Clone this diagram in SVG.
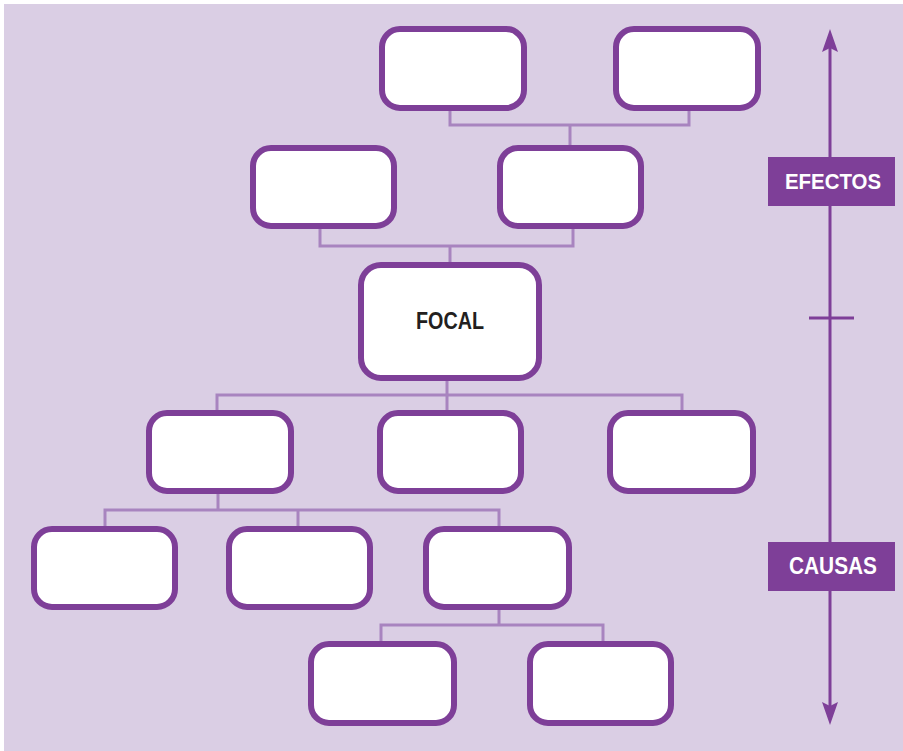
<svg xmlns="http://www.w3.org/2000/svg" width="903" height="751" viewBox="0 0 903 751">
<style>
.node rect{fill:#ffffff;stroke:#7E3F98;stroke-width:6}
.conn{fill:none;stroke:#A884BF;stroke-width:3}
.lbl{font-family:"Liberation Sans Narrow","Liberation Sans",Arial,sans-serif;font-weight:bold;text-anchor:middle}
.axis{stroke:#7E3F98;stroke-width:3;fill:none}
</style>
<rect x="0" y="0" width="903" height="751" fill="#ffffff"/>
<rect x="4" y="4" width="899" height="747" fill="#DACEE4"/>
<g id="connectors">
<polyline class="conn" points="450,111 450,125 689,125 689,111"/>
<line class="conn" x1="570" y1="125" x2="570" y2="146"/>
<polyline class="conn" points="320,229 320,246 573,246 573,229"/>
<line class="conn" x1="450" y1="246" x2="450" y2="263"/>
<line class="conn" x1="447" y1="381" x2="447" y2="411"/>
<polyline class="conn" points="217,411 217,395 682,395 682,411"/>
<line class="conn" x1="218" y1="494" x2="218" y2="510"/>
<polyline class="conn" points="105,527 105,510 499,510 499,527"/>
<line class="conn" x1="298" y1="510" x2="298" y2="527"/>
<line class="conn" x1="499" y1="610" x2="499" y2="625"/>
<polyline class="conn" points="381,642 381,625 603,625 603,642"/>
</g>
<g id="n-efecto-1" class="node"><rect x="382" y="29" width="142" height="79" rx="18"/></g>
<g id="n-efecto-2" class="node"><rect x="616" y="29" width="142" height="79" rx="18"/></g>
<g id="n-efecto-3" class="node"><rect x="253" y="148" width="141" height="78" rx="18"/></g>
<g id="n-efecto-4" class="node"><rect x="500" y="148" width="141" height="78" rx="18"/></g>
<g id="n-focal" class="node"><rect x="361" y="265" width="178" height="113" rx="20"/>
<text class="lbl" x="450" y="329" fill="#231F20" style="font-size:24px" textLength="68" lengthAdjust="spacingAndGlyphs">FOCAL</text></g>
<g id="n-causa-1" class="node"><rect x="149" y="413" width="142" height="78" rx="18"/></g>
<g id="n-causa-2" class="node"><rect x="380" y="413" width="141" height="78" rx="18"/></g>
<g id="n-causa-3" class="node"><rect x="610" y="413" width="143" height="78" rx="18"/></g>
<g id="n-causa-4" class="node"><rect x="34" y="529" width="141" height="78" rx="18"/></g>
<g id="n-causa-5" class="node"><rect x="229" y="529" width="141" height="78" rx="18"/></g>
<g id="n-causa-6" class="node"><rect x="426" y="529" width="143" height="78" rx="18"/></g>
<g id="n-causa-7" class="node"><rect x="311" y="644" width="143" height="79" rx="18"/></g>
<g id="n-causa-8" class="node"><rect x="530" y="644" width="141" height="79" rx="18"/></g>
<g id="axis">
<line class="axis" x1="830" y1="46" x2="830" y2="707"/>
<polygon points="830,29 838,52 830,48 822,52" fill="#7E3F98"/>
<polygon points="830,725 838,702 830,706 822,702" fill="#7E3F98"/>
<line class="axis" x1="809" y1="318" x2="854" y2="318"/>
</g>
<g id="lbl-efectos">
<rect x="768" y="157" width="127" height="49" fill="#7E3F98"/>
<text class="lbl" x="833" y="189" fill="#ffffff" style="font-size:22px" textLength="96" lengthAdjust="spacingAndGlyphs">EFECTOS</text>
</g>
<g id="lbl-causas">
<rect x="768" y="542" width="127" height="49" fill="#7E3F98"/>
<text class="lbl" x="833" y="574" fill="#ffffff" style="font-size:23px" textLength="88" lengthAdjust="spacingAndGlyphs">CAUSAS</text>
</g>
</svg>
